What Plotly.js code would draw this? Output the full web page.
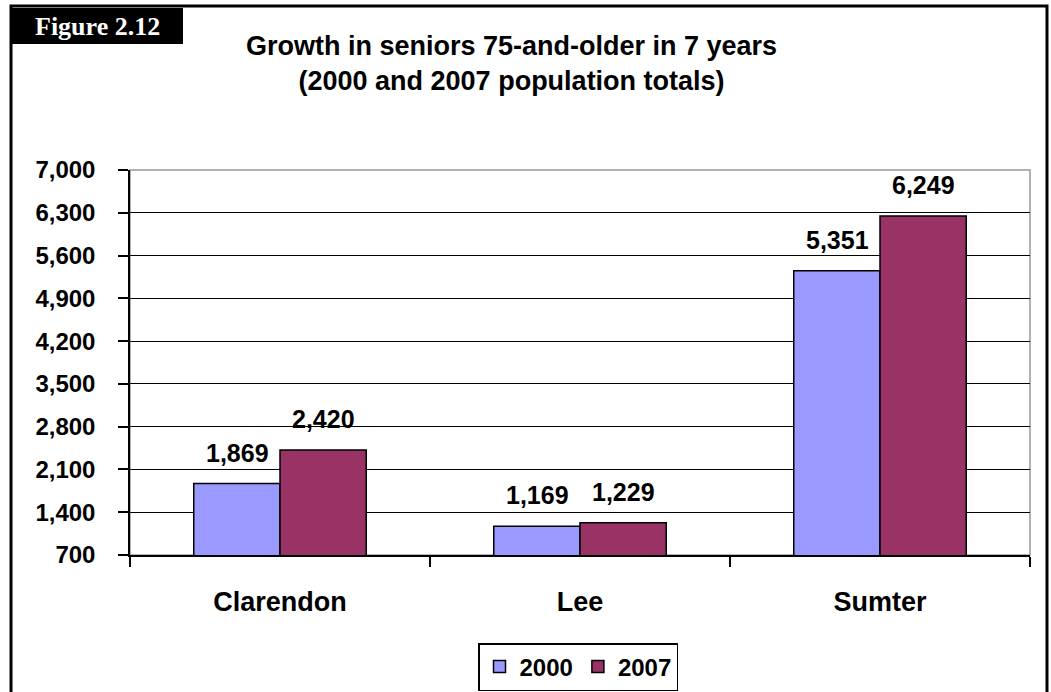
<!DOCTYPE html>
<html>
<head>
<meta charset="utf-8">
<script src="https://cdn.plot.ly/plotly-3.0.1.min.js"></script>
<style>html,body{margin:0;padding:0;background:#fff;}#chart{width:1051px;height:692px;}</style>
</head>
<body>
<div id="chart"></div>
<script>
const categories = ["Clarendon", "Lee", "Sumter"];
const seriesNames = ["2000", "2007"];
const values2000 = [1869, 1169, 5351];
const values2007 = [2420, 1229, 6249];
const yTicks = [700, 1400, 2100, 2800, 3500, 4200, 4900, 5600, 6300, 7000];
const titleText = "Growth in seniors 75-and-older in 7 years<br>(2000 and 2007 population totals)";
const figureLabel = "Figure 2.12";

const fmt = v => v.toLocaleString("en-US");
const font = "Arial, 'Liberation Sans', sans-serif";

const traces = [
  {type: "bar", name: seriesNames[0], x: categories, y: values2000,
   marker: {color: "#9999FF", line: {color: "#000", width: 1.5}}},
  {type: "bar", name: seriesNames[1], x: categories, y: values2007,
   marker: {color: "#993366", line: {color: "#000", width: 1.5}}}
];

const annotations = [];
[values2000, values2007].forEach((vals, si) => {
  vals.forEach((v, i) => {
    annotations.push({x: categories[i], y: v, xref: "x", yref: "y",
      text: fmt(v), showarrow: false, yanchor: "bottom", xanchor: "center",
      xshift: si === 0 ? -43 : 43, yshift: 15,
      font: {family: font, size: 25, color: "#000", weight: "bold"}});
  });
});
annotations.push({xref: "paper", yref: "paper", x: (97.5 - 130) / 900, y: (555 - 26) / 385,
  text: "<b>" + figureLabel + "</b>", showarrow: false, xanchor: "center", yanchor: "middle",
  font: {family: "'Liberation Serif', 'Times New Roman', serif", size: 26, color: "#fff"}});
annotations.push({xref: "paper", yref: "paper", x: (511 - 130) / 900, y: (555 - 63) / 385,
  text: "<b>" + titleText + "</b>", showarrow: false, xanchor: "center", yanchor: "middle",
  font: {family: font, size: 27, color: "#000"}});

const layout = {
  width: 1051, height: 692,
  margin: {l: 130, r: 21, t: 170, b: 137, pad: 0, autoexpand: false},
  paper_bgcolor: "#fff", plot_bgcolor: "#fff",
  showlegend: true,
  barmode: "group", bargap: 0.425, bargroupgap: 0,
  xaxis: {type: "category", showgrid: false, showline: true, linecolor: "#000", linewidth: 1.5,
    ticks: "outside", tickson: "boundaries", ticklen: 10, tickcolor: "#000", tickwidth: 1.5,
    ticklabelstandoff: 22, automargin: false,
    tickfont: {family: font, size: 27, color: "#000", weight: "bold"}},
  yaxis: {range: [700, 7000], tickvals: yTicks, ticktext: yTicks.map(fmt),
    showgrid: true, gridcolor: "#000", gridwidth: 1, zeroline: false,
    showline: true, linecolor: "#000", linewidth: 1.5,
    ticks: "outside", ticklen: 10, tickcolor: "#000", tickwidth: 1.5,
    ticklabelstandoff: 18, automargin: false,
    tickfont: {family: font, size: 24, color: "#000", weight: "bold"}},
  legend: {orientation: "h", x: 578 / 1051, xref: "container", xanchor: "center",
    y: 1 - 643 / 692, yref: "container", yanchor: "top",
    bordercolor: "#000", borderwidth: 1.5, bgcolor: "#fff",
    font: {family: font, size: 24, color: "#000", weight: "bold"}, itemwidth: 30, tracegroupgap: 0},
  shapes: [
    {type: "rect", xref: "paper", yref: "paper", x0: 0, x1: 1, y0: 0, y1: 1,
      line: {color: "#999", width: 1.5}, layer: "below"},
    {type: "rect", xref: "paper", yref: "paper", x0: (11 - 130) / 900, x1: (1047 - 130) / 900,
      y0: (555 - 720) / 385, y1: (555 - 6) / 385, line: {color: "#000", width: 3}},
    {type: "rect", xref: "paper", yref: "paper", x0: (12 - 130) / 900, x1: (183 - 130) / 900,
      y0: (555 - 44) / 385, y1: (555 - 8) / 385, fillcolor: "#000", line: {width: 0}}
  ],
  annotations: annotations
};

Plotly.newPlot("chart", traces, layout, {displayModeBar: false, responsive: false});
</script>
</body>
</html>
